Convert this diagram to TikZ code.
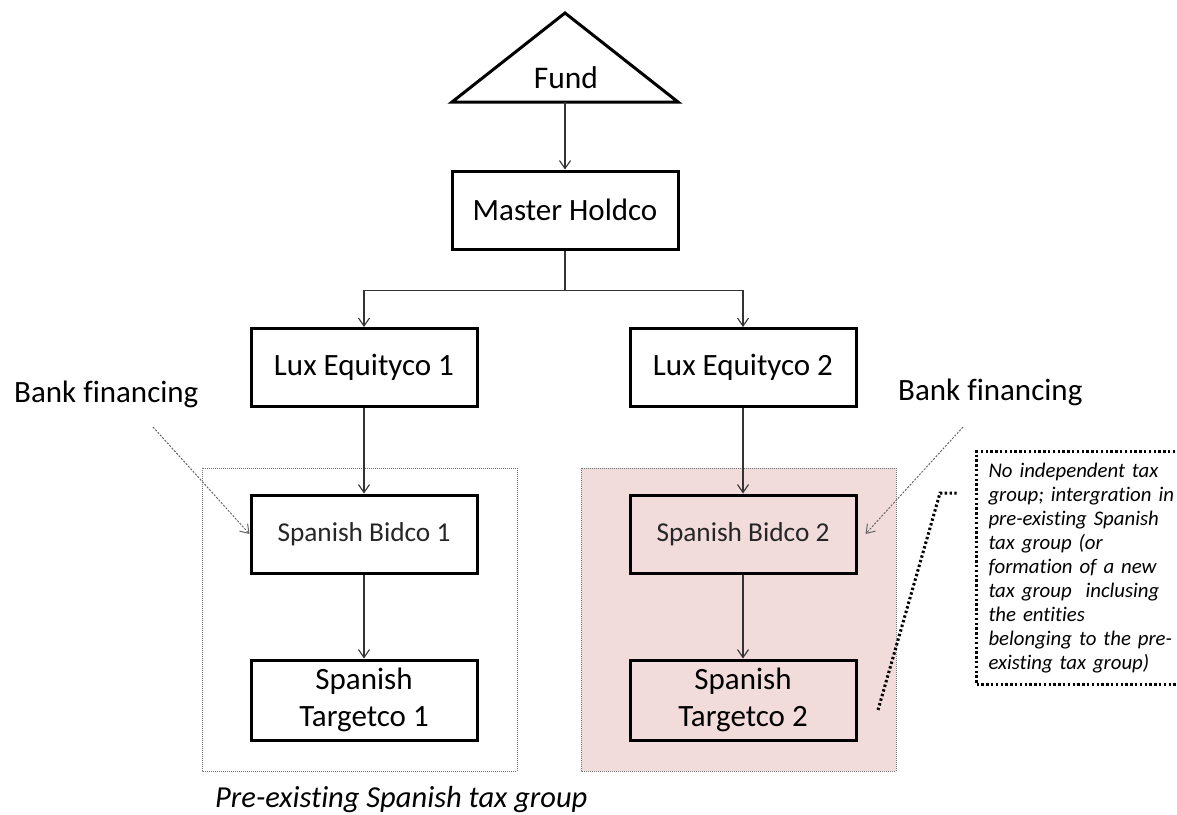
\documentclass[tikz,border=0pt]{standalone}
\usepackage{fontspec}
\setmainfont{Carlito}[Ligatures=NoCommon]
\usetikzlibrary{arrows.meta}
\definecolor{pinkgrp}{HTML}{F2DCDB}
\tikzset{
  entity/.style={draw, line width=3pt, minimum width=226pt, minimum height=78pt, inner sep=0pt, align=center,
    font=\fontsize{31}{37}\selectfont},
  bidbox/.style={entity, font=\fontsize{27.3}{33}\selectfont, text=black!85},
  own/.style={line width=1.1pt, draw=black!80, -{Straight Barb[length=8pt,width=11pt]}},
  finarrow/.style={line width=1pt, draw=black!60, dash pattern=on 2pt off 1.5pt, -{Straight Barb[length=8pt,width=11pt]}},
  grpbox/.style={draw=black!55, line width=0.9pt, dash pattern=on 1pt off 1pt},
  notebox/.style={draw=black, line width=3pt, dash pattern=on 2.4pt off 2.4pt, align=left, anchor=north west,
    font=\fontsize{20.8}{24}\selectfont\itshape, inner xsep=12pt, inner ysep=6pt, text width=230pt, minimum height=233pt},
  leader/.style={draw=black, line width=3pt, dash pattern=on 2.4pt off 2.4pt},
  lbl/.style={font=\fontsize{31}{37}\selectfont, inner sep=0pt}
}
\begin{document}
\begin{tikzpicture}[x=1pt,y=-1pt]
\clip (0,0) rectangle (1177,814);
\fill[white] (0,0) rectangle (1177,814);

% tax group areas
\draw[grpbox] (202,468) rectangle (517,771);
\fill[pinkgrp] (581,468) rectangle (896,771);
\draw[grpbox] (581,468) rectangle (896,771);
\node[font=\fontsize{30.5}{36}\selectfont\itshape, anchor=west, inner sep=0pt] (pretxt) at (215,800) {Pre-existing Spanish tax group};

% Fund triangle
\draw[line width=3pt, line join=miter] (565,13) -- (678,102) -- (452,102) -- cycle;
\node[lbl, font=\fontsize{31.5}{37}\selectfont] (fund) at (566,78) {Fund};
\coordinate (fundbase) at (565,102);

% entities
\node[entity] (master) at (565,210) {Master Holdco};
\node[entity] (lux1) at (364,367.5) {Lux Equityco 1};
\node[entity] (lux2) at (743,367.5) {Lux Equityco 2};
\node[bidbox] (bid1) at (364,534) {Spanish Bidco 1};
\node[bidbox] (bid2) at (743,534) {Spanish Bidco 2};
\node[entity, minimum height=80pt] (tgt1) at (364,700) {Spanish\\Targetco 1};
\node[entity, minimum height=80pt] (tgt2) at (743,700) {Spanish\\Targetco 2};

% ownership connectors
\draw[own] (fundbase) -- (master.north);
\draw[own] (master.south) -- ++(0,40) -| (lux1.north);
\draw[own] (master.south) -- ++(0,40) -| (lux2.north);
\draw[own] (lux1) -- (bid1);
\draw[own] (lux2) -- (bid2);
\draw[own] (bid1) -- (tgt1);
\draw[own] (bid2) -- (tgt2);

% bank financing
\node[lbl, anchor=west] (bf1) at (14,394) {Bank financing};
\node[lbl, anchor=west] (bf2) at (898,392) {Bank financing};
\coordinate (bf1s) at (153,427);
\coordinate (bf2s) at (963,427);
\draw[finarrow] (bf1s) -- (bid1.west);
\draw[finarrow] (bf2s) -- ([xshift=8pt]bid2.east);

% note callout
\node[notebox] (note) at (975,450) {No independent tax\\group; intergration in\\pre-existing Spanish\\tax group (or\\formation of a new\\tax group\ \ inclusing\\the entities\\belonging to the pre-\\existing tax group)};
\coordinate (ld1) at (878,710);
\coordinate (ld2) at (940,493);
\coordinate (ld3) at (957,493);
\draw[leader] (ld1) -- (ld2) -- (ld3);
\end{tikzpicture}
\end{document}
